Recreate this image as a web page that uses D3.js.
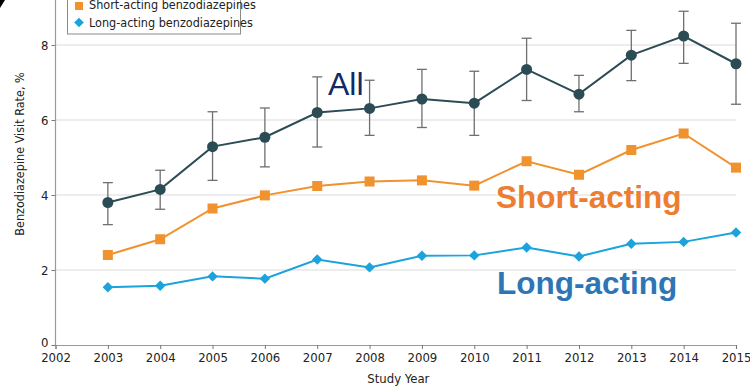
<!DOCTYPE html>
<html>
<head>
<meta charset="utf-8">
<script src="https://cdn.jsdelivr.net/npm/d3@7"></script>
<style>
  html, body { margin: 0; padding: 0; background: #fff; }
  svg { display: block; }
</style>
</head>
<body>
<svg id="chart" width="750" height="390"></svg>
<script>
// Benzodiazepine visit rates by study year
const years = [2003, 2004, 2005, 2006, 2007, 2008, 2009, 2010, 2011, 2012, 2013, 2014, 2015];
const allRate   = [3.80, 4.15, 5.29, 5.54, 6.20, 6.31, 6.56, 6.45, 7.35, 6.69, 7.73, 8.24, 7.50];
const allLower  = [3.21, 3.62, 4.39, 4.75, 5.28, 5.59, 5.80, 5.59, 6.52, 6.22, 7.05, 7.51, 6.42];
const allUpper  = [4.33, 4.66, 6.22, 6.32, 7.15, 7.06, 7.35, 7.30, 8.18, 7.19, 8.39, 8.90, 8.58];
const shortRate = [2.40, 2.82, 3.64, 3.99, 4.24, 4.36, 4.39, 4.25, 4.90, 4.54, 5.20, 5.64, 4.73];
const longRate  = [1.54, 1.58, 1.83, 1.77, 2.28, 2.07, 2.38, 2.39, 2.60, 2.36, 2.70, 2.75, 3.00];
const xTicks = [2002, 2003, 2004, 2005, 2006, 2007, 2008, 2009, 2010, 2011, 2012, 2013, 2014, 2015];
const yTicks = [0, 2, 4, 6, 8];

const svg = d3.select("#chart");
const left = 55.5, right = 736, bottom = 345;

const x = d3.scaleLinear().domain([2002, 2015]).range([left, right]);
const y = d3.scaleLinear().domain([0, 8]).range([bottom, 45]);

const tickFont = '"DejaVu Sans Condensed", "Liberation Sans Narrow", "Open Sans", sans-serif';

// horizontal grid
svg.append("g").selectAll("line")
  .data(yTicks.filter(d => d > 0))
  .join("line")
  .attr("x1", left).attr("x2", right)
  .attr("y1", d => y(d)).attr("y2", d => y(d))
  .attr("stroke", "#dcdcdc").attr("stroke-width", 1.2);

// axes
const yAxis = svg.append("g")
  .attr("transform", `translate(${left},0)`)
  .call(d3.axisLeft(y).tickValues(yTicks).tickSize(4).tickPadding(3).tickFormat(d3.format("d")));
yAxis.select(".domain").remove();
svg.append("line")
  .attr("x1", left).attr("x2", left).attr("y1", 0).attr("y2", bottom)
  .attr("stroke", "#9a9a9a").attr("stroke-width", 1.2);

const xAxis = svg.append("g")
  .attr("transform", `translate(0,${bottom})`)
  .call(d3.axisBottom(x).tickValues(xTicks).tickSize(4).tickPadding(4).tickFormat(d3.format("d")));
xAxis.select(".domain").attr("stroke", "#9a9a9a").attr("stroke-width", 1.2);

[yAxis, xAxis].forEach(g => {
  g.selectAll(".tick line").attr("stroke", "#777");
  g.selectAll(".tick text").attr("fill", "#222").style("font-size", "13px").style("font-family", tickFont);
});
// keep the zero label clear of the first year label
yAxis.selectAll(".tick").filter(d => d === 0).select("text").attr("dy", "0.1em");

// axis titles
svg.append("text")
  .attr("x", x(2008.55)).attr("y", 383)
  .attr("text-anchor", "middle")
  .style("font-family", tickFont).style("font-size", "13px").attr("fill", "#222")
  .text("Study Year");

svg.append("text")
  .attr("transform", "translate(24,154) rotate(-90)")
  .attr("text-anchor", "middle")
  .style("font-family", tickFont).style("font-size", "12.5px").attr("fill", "#222")
  .text("Benzodiazepine Visit Rate, %");

// series
const line = d3.line().x((d, i) => x(years[i])).y(d => y(d));

// long-acting
svg.append("path").datum(longRate)
  .attr("d", line).attr("fill", "none")
  .attr("stroke", "#1ba3dc").attr("stroke-width", 2);
svg.append("g").selectAll("path")
  .data(longRate)
  .join("path")
  .attr("transform", (d, i) => `translate(${x(years[i])},${y(d)})`)
  .attr("d", d3.symbol(d3.symbolDiamond2, 70))
  .attr("fill", "#1ba3dc");

// short-acting
svg.append("path").datum(shortRate)
  .attr("d", line).attr("fill", "none")
  .attr("stroke", "#f0922e").attr("stroke-width", 2);
svg.append("g").selectAll("rect")
  .data(shortRate)
  .join("rect")
  .attr("x", (d, i) => x(years[i]) - 5).attr("y", d => y(d) - 5)
  .attr("width", 10).attr("height", 10)
  .attr("fill", "#f0922e");

// all benzodiazepines with confidence intervals
const eb = svg.append("g").attr("stroke", "#6f6f6f").attr("stroke-width", 1.3);
years.forEach((yr, i) => {
  const cx = x(yr);
  eb.append("line").attr("x1", cx).attr("x2", cx).attr("y1", y(allLower[i])).attr("y2", y(allUpper[i]));
  eb.append("line").attr("x1", cx - 5).attr("x2", cx + 5).attr("y1", y(allLower[i])).attr("y2", y(allLower[i]));
  eb.append("line").attr("x1", cx - 5).attr("x2", cx + 5).attr("y1", y(allUpper[i])).attr("y2", y(allUpper[i]));
});
svg.append("path").datum(allRate)
  .attr("d", line).attr("fill", "none")
  .attr("stroke", "#2c4c55").attr("stroke-width", 2);
svg.append("g").selectAll("circle")
  .data(allRate)
  .join("circle")
  .attr("cx", (d, i) => x(years[i])).attr("cy", d => y(d))
  .attr("r", 5.5).attr("fill", "#2c4c55");

// legend
const lg = svg.append("g");
lg.append("rect")
  .attr("x", 67.5).attr("y", -12).attr("width", 173).attr("height", 46)
  .attr("fill", "#fff").attr("stroke", "#8a8a8a").attr("stroke-width", 1);
lg.append("rect").attr("x", 75).attr("y", 2).attr("width", 8).attr("height", 8).attr("fill", "#f0922e");
lg.append("text").attr("x", 89).attr("y", 9)
  .style("font-family", tickFont).style("font-size", "12.5px").attr("fill", "#222")
  .text("Short-acting benzodiazepines");
lg.append("path")
  .attr("transform", "translate(79,22.5)")
  .attr("d", d3.symbol(d3.symbolDiamond2, 60))
  .attr("fill", "#1ba3dc");
lg.append("text").attr("x", 89).attr("y", 27)
  .style("font-family", tickFont).style("font-size", "12.5px").attr("fill", "#222")
  .text("Long-acting benzodiazepines");

// series callouts
svg.append("text").attr("x", 328).attr("y", 95)
  .style("font-family", "Liberation Sans, Arial, sans-serif").style("font-size", "32px")
  .attr("fill", "#0f2a66").text("All");
svg.append("text").attr("x", 496).attr("y", 207.5)
  .style("font-family", "Liberation Sans, Arial, sans-serif").style("font-size", "31.5px").style("font-weight", "bold")
  .attr("fill", "#ed7d31").text("Short-acting");
svg.append("text").attr("x", 497).attr("y", 294)
  .style("font-family", "Liberation Sans, Arial, sans-serif").style("font-size", "31.5px").style("font-weight", "bold")
  .attr("fill", "#2e75b6").text("Long-acting");

// corner mark
svg.append("path").attr("d", "M0,0 L5,0 L0,8 Z").attr("fill", "#000");
</script>
</body>
</html>
